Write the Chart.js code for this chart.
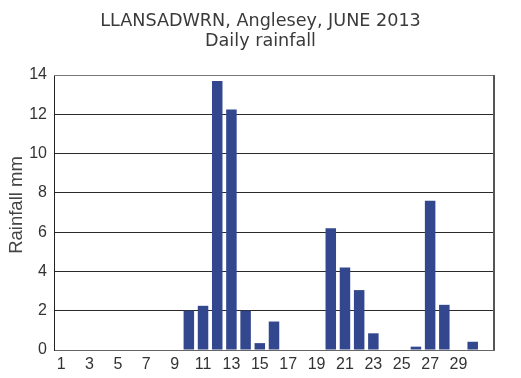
<!DOCTYPE html>
<html lang="en">
<head>
  <meta charset="UTF-8" />
  <title>Llansadwrn daily rainfall, June 2013</title>
  <script src="https://cdn.jsdelivr.net/npm/chart.js"></script>
  <style>
    html, body {
      margin: 0;
      padding: 0;
      background: #fff;
    }

    .wrap {
      position: relative;
      width: 521px;
      height: 378px;
    }
  </style>
</head>
<body>

  <div class="wrap">
    <canvas id="rainChart"></canvas>
  </div>

  <script>
    // days of June plus one empty slot at the end, like the original
    const days = ['1','2','3','4','5','6','7','8','9','10','11','12','13','14','15',
                  '16','17','18','19','20','21','22','23','24','25','26','27','28','29','30',''];
    const rainfall = [0, 0, 0, 0, 0, 0, 0, 0, 0, 2.0, 2.25, 13.7, 12.25, 2.0, 0.35,
                      1.45, 0, 0, 0, 6.2, 4.2, 3.05, 0.85, 0, 0, 0.17, 7.6, 2.3, 0, 0.42, 0];
    const titleLines = ['LLANSADWRN, Anglesey, JUNE 2013', 'Daily rainfall'];
    const yTitle = 'Rainfall mm';
    const yTicks = [0, 2, 4, 6, 8, 10, 12, 14];

    const tickFont = { family: '"Liberation Sans", Arial, sans-serif', size: 16 };

    // titles: main one centred on the canvas, y title a bit above plot middle
    const titlePlugin = {
      id: 'titles',
      afterDraw(chart) {
        const ctx = chart.ctx;
        ctx.save();
        ctx.fillStyle = '#3a3a3a';
        ctx.font = '17.6px "DejaVu Sans", Verdana, sans-serif';
        ctx.textAlign = 'center';
        ctx.textBaseline = 'middle';
        titleLines.forEach((t, i) => ctx.fillText(t, chart.width / 2, 21 + i * 20));

        ctx.fillStyle = '#444';
        ctx.font = '18.5px "Liberation Sans", Arial, sans-serif';
        ctx.translate(17, 205);
        ctx.rotate(-Math.PI / 2);
        ctx.fillText(yTitle, 0, 0);
        ctx.restore();
      }
    };

    // plot frame: grey top, darker right edge
    const framePlugin = {
      id: 'frame',
      afterDatasetsDraw(chart) {
        const a = chart.chartArea;
        const ctx = chart.ctx;
        ctx.save();
        ctx.strokeStyle = '#777';
        ctx.lineWidth = 1;
        ctx.beginPath();
        ctx.moveTo(a.left, a.top + 0.5);
        ctx.lineTo(a.right, a.top + 0.5);
        ctx.stroke();
        ctx.strokeStyle = '#555';
        ctx.lineWidth = 2;
        ctx.beginPath();
        ctx.moveTo(a.right, a.top);
        ctx.lineTo(a.right, a.bottom);
        ctx.stroke();
        ctx.restore();
      }
    };

    new Chart(document.getElementById('rainChart'), {
      type: 'bar',
      data: {
        labels: days,
        datasets: [{
          data: rainfall,
          backgroundColor: '#33478f',
          borderWidth: 0,
          barPercentage: 0.74,
          categoryPercentage: 1
        }]
      },
      options: {
        responsive: true,
        maintainAspectRatio: false,
        animation: false,
        layout: { padding: { top: 75, right: 27, bottom: 0, left: 0 } },
        plugins: {
          legend: { display: false },
          title: { display: false },
          tooltip: { enabled: false }
        },
        scales: {
          x: {
            afterFit: s => { s.height = 28; },
            grid: { display: false, drawTicks: false },
            border: { color: '#666', width: 1 },
            ticks: {
              color: '#333',
              font: tickFont,
              padding: 5,
              maxRotation: 0,
              autoSkip: false,
              callback: (v, i) => (i % 2 === 0 ? days[i] : '')
            }
          },
          y: {
            min: 0,
            max: 14,
            afterBuildTicks: s => { s.ticks = yTicks.map(v => ({ value: v })); },
            afterFit: s => { s.width = 54; },
            grid: { color: '#2a2a2a', lineWidth: 1, drawTicks: false },
            border: { color: '#222', width: 1 },
            ticks: {
              color: '#333',
              font: tickFont,
              padding: 7
            }
          }
        }
      },
      plugins: [titlePlugin, framePlugin]
    });
  </script>
</body>
</html>
